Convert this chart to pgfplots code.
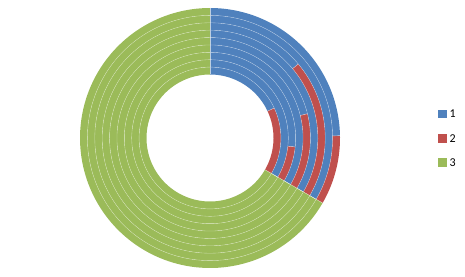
\documentclass[border=0pt]{standalone}
\usepackage{pgfplots}
\usepackage{pgfplotstable}
\usepackage{fontspec}
\setmainfont{Carlito}
\pgfplotsset{compat=1.18}
\definecolor{sblue}{RGB}{79,129,189}
\definecolor{sred}{RGB}{192,80,77}
\definecolor{sgreen}{RGB}{155,187,89}

% one row per ring (inner -> outer), values of categories 1, 2, 3
\pgfplotstableread{
ring s1 s2 s3
1 65 55 240
2 120 0 240
3 96 24 240
4 120 0 240
5 76 44 240
6 120 0 240
7 50 70 240
8 120 0 240
9 89 31 240
}\ringdata

\newcommand{\rin}{63.5}
\newcommand{\rw}{7.3889}

\begin{document}
\begin{tikzpicture}
\begin{axis}[
  x=1pt, y=1pt,
  xmin=-210, xmax=255, ymin=-138, ymax=138,
  hide axis, clip=false,
  legend style={draw=none, fill=none, inner sep=0pt, outer sep=0pt,
    at={(axis cs:228.3,0)}, anchor=west,
    font=\fontsize{12}{14}\selectfont,
    nodes={inner sep=0pt, text height=8pt, text depth=0pt},
    row sep=16pt,
    /tikz/every odd column/.append style={column sep=3.5pt}},
  legend cell align=left,
  legend image code/.code={\fill[#1] (0pt,-3.7pt) rectangle (7.4pt,3.7pt);},
]
\pgfplotsinvokeforeach{0,...,8}{
  \pgfplotstablegetelem{#1}{s1}\of\ringdata \let\va\pgfplotsretval
  \pgfplotstablegetelem{#1}{s2}\of\ringdata \let\vb\pgfplotsretval
  \pgfplotstablegetelem{#1}{s3}\of\ringdata \let\vc\pgfplotsretval
  \pgfmathsetmacro{\tot}{\va+\vb+\vc}
  \pgfmathsetmacro{\aA}{\va/\tot*360}
  \pgfmathsetmacro{\aB}{(\va+\vb)/\tot*360}
  \pgfmathsetmacro{\R}{\rin+\rw*(#1+0.5)}
  \edef\temp{\noexpand\addplot[sblue, line width=\rw pt, domain=0:\aA, samples=60, forget plot] ({\R*sin(x)},{\R*cos(x)});}\temp
  \pgfmathparse{\vb>0 ? 1 : 0}
  \ifnum\pgfmathresult=1
    \edef\temp{\noexpand\addplot[sred, line width=\rw pt, domain=\aA:\aB, samples=40, forget plot] ({\R*sin(x)},{\R*cos(x)});}\temp
  \fi
  \edef\temp{\noexpand\addplot[sgreen, line width=\rw pt, domain=\aB:360, samples=120, forget plot] ({\R*sin(x)},{\R*cos(x)});}\temp
  % radial white borders
  \pgfmathsetmacro{\Ri}{\rin+\rw*#1}
  \pgfmathsetmacro{\Ro}{\rin+\rw*(#1+1)}
  \edef\temp{\noexpand\addplot[white, opacity=0.6, line width=0.4pt, forget plot] coordinates {(0,\Ri) (0,\Ro)};}\temp
  \pgfmathsetmacro{\xa}{\Ri*sin(\aA)}\pgfmathsetmacro{\ya}{\Ri*cos(\aA)}
  \pgfmathsetmacro{\xb}{\Ro*sin(\aA)}\pgfmathsetmacro{\yb}{\Ro*cos(\aA)}
  \edef\temp{\noexpand\addplot[white, opacity=0.6, line width=0.4pt, forget plot] coordinates {(\xa,\ya) (\xb,\yb)};}\temp
  \pgfmathsetmacro{\xa}{\Ri*sin(\aB)}\pgfmathsetmacro{\ya}{\Ri*cos(\aB)}
  \pgfmathsetmacro{\xb}{\Ro*sin(\aB)}\pgfmathsetmacro{\yb}{\Ro*cos(\aB)}
  \edef\temp{\noexpand\addplot[white, opacity=0.6, line width=0.4pt, forget plot] coordinates {(\xa,\ya) (\xb,\yb)};}\temp
}
% white ring borders
\pgfplotsinvokeforeach{1,...,8}{
  \pgfmathsetmacro{\Rb}{\rin+\rw*#1}
  \edef\temp{\noexpand\addplot[white, opacity=0.5, line width=0.35pt, domain=0:360, samples=200, forget plot] ({\Rb*sin(x)},{\Rb*cos(x)});}\temp
}
\addlegendimage{sblue}\addlegendentry{1}
\addlegendimage{sred}\addlegendentry{2}
\addlegendimage{sgreen}\addlegendentry{3}
\end{axis}
\path (current axis.south west) rectangle (current axis.north east);
\end{tikzpicture}
\end{document}
